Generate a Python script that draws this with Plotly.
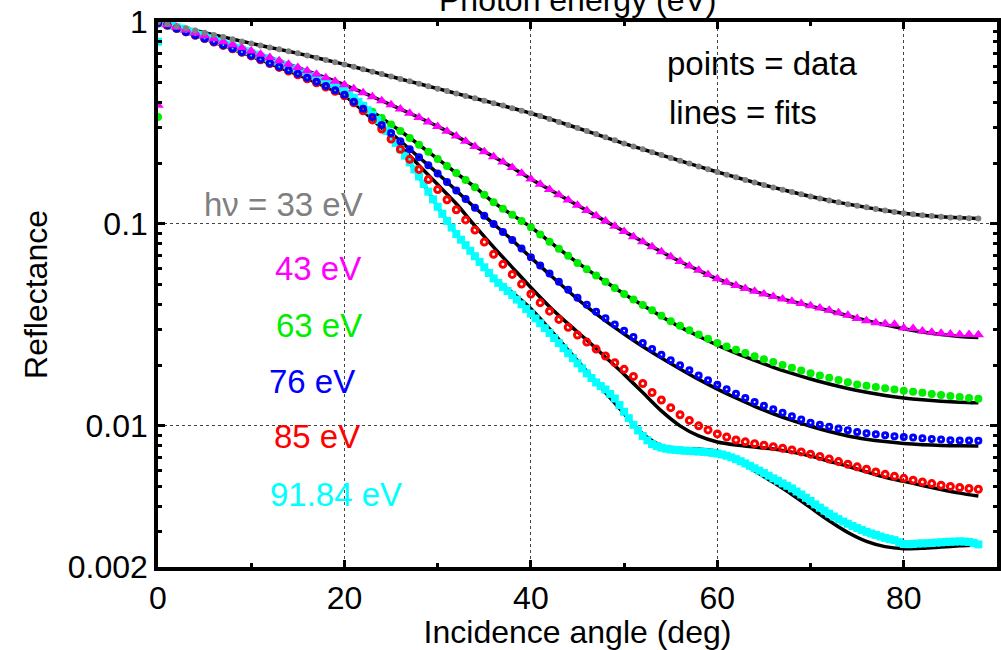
import plotly.graph_objects as go

# ---------------- data ----------------
# Reflectance values are stored as log10(R), read on the log axis.
angle_data = [float(a) for a in range(0, 89)]            # 1-degree sampling (0..88)
angle_cyan = [a * 0.5 for a in range(0, 177)]             # 0.5-degree sampling (0..88)
angle_fit = [float(a) for a in range(0, 89, 2)]           # fit curves sampled every 2 deg

log_r_33 = [0.000, -0.010, -0.021, -0.031, -0.042, -0.053, -0.064, -0.074, -0.085, -0.096,
            -0.106, -0.116, -0.126, -0.135, -0.145, -0.155, -0.166, -0.177, -0.188, -0.199,
            -0.210, -0.222, -0.234, -0.246, -0.258, -0.270, -0.282, -0.294, -0.306, -0.318,
            -0.330, -0.342, -0.354, -0.366, -0.378, -0.390, -0.402, -0.414, -0.427, -0.439,
            -0.452, -0.466, -0.480, -0.495, -0.510, -0.525, -0.540, -0.555, -0.571, -0.586,
            -0.602, -0.616, -0.630, -0.645, -0.659, -0.673, -0.687, -0.701, -0.715, -0.729,
            -0.743, -0.756, -0.769, -0.782, -0.795, -0.807, -0.819, -0.831, -0.842, -0.853,
            -0.864, -0.874, -0.884, -0.893, -0.902, -0.910, -0.918, -0.926, -0.934, -0.941,
            -0.947, -0.952, -0.957, -0.961, -0.965, -0.968, -0.970, -0.972, -0.973]

log_r_43 = [-0.412, -0.013, -0.026, -0.040, -0.054, -0.068, -0.083, -0.098, -0.113, -0.128,
            -0.144, -0.160, -0.176, -0.192, -0.209, -0.225, -0.242, -0.259, -0.276, -0.293,
            -0.311, -0.330, -0.350, -0.370, -0.390, -0.410, -0.431, -0.452, -0.473, -0.495,
            -0.517, -0.541, -0.565, -0.591, -0.617, -0.642, -0.667, -0.693, -0.720, -0.749,
            -0.778, -0.804, -0.830, -0.856, -0.882, -0.908, -0.934, -0.960, -0.986, -1.012,
            -1.037, -1.063, -1.088, -1.113, -1.138, -1.162, -1.186, -1.208, -1.230, -1.251,
            -1.272, -1.289, -1.305, -1.320, -1.334, -1.347, -1.360, -1.372, -1.383, -1.394,
            -1.405, -1.416, -1.428, -1.440, -1.452, -1.468, -1.480, -1.490, -1.494, -1.497,
            -1.515, -1.518, -1.530, -1.536, -1.541, -1.545, -1.548, -1.548, -1.549]

log_r_63 = [-0.470, -0.016, -0.032, -0.049, -0.066, -0.083, -0.100, -0.117, -0.134, -0.151,
            -0.168, -0.186, -0.204, -0.222, -0.240, -0.258, -0.277, -0.296, -0.315, -0.335,
            -0.355, -0.385, -0.415, -0.445, -0.476, -0.508, -0.540, -0.574, -0.608, -0.643,
            -0.678, -0.713, -0.748, -0.783, -0.818, -0.855, -0.893, -0.925, -0.955, -0.986,
            -1.016, -1.052, -1.088, -1.123, -1.158, -1.193, -1.224, -1.255, -1.286, -1.317,
            -1.347, -1.374, -1.401, -1.428, -1.455, -1.482, -1.504, -1.526, -1.548, -1.569,
            -1.590, -1.607, -1.623, -1.639, -1.655, -1.670, -1.684, -1.698, -1.712, -1.726,
            -1.740, -1.751, -1.762, -1.773, -1.784, -1.795, -1.801, -1.807, -1.814, -1.820,
            -1.826, -1.831, -1.836, -1.842, -1.847, -1.852, -1.857, -1.862, -1.866]

log_r_76 = [-0.005, -0.016, -0.032, -0.049, -0.066, -0.082, -0.098, -0.114, -0.131, -0.148,
            -0.166, -0.185, -0.204, -0.222, -0.239, -0.256, -0.276, -0.296, -0.317, -0.338,
            -0.360, -0.395, -0.430, -0.470, -0.510, -0.550, -0.590, -0.630, -0.670, -0.710,
            -0.750, -0.792, -0.835, -0.877, -0.920, -0.960, -1.000, -1.040, -1.080, -1.122,
            -1.165, -1.206, -1.246, -1.286, -1.326, -1.366, -1.400, -1.435, -1.467, -1.498,
            -1.529, -1.560, -1.590, -1.620, -1.648, -1.675, -1.700, -1.725, -1.750, -1.774,
            -1.797, -1.819, -1.841, -1.862, -1.882, -1.901, -1.918, -1.935, -1.952, -1.968,
            -1.984, -1.994, -2.004, -2.013, -2.022, -2.030, -2.036, -2.041, -2.046, -2.051,
            -2.055, -2.058, -2.061, -2.065, -2.068, -2.071, -2.072, -2.073, -2.074]

log_r_85 = [-0.005, -0.016, -0.032, -0.049, -0.066, -0.082, -0.099, -0.116, -0.133, -0.150,
            -0.168, -0.187, -0.206, -0.225, -0.243, -0.261, -0.281, -0.301, -0.322, -0.343,
            -0.365, -0.400, -0.440, -0.485, -0.530, -0.580, -0.630, -0.680, -0.730, -0.780,
            -0.830, -0.880, -0.930, -0.980, -1.030, -1.090, -1.150, -1.200, -1.250, -1.298,
            -1.347, -1.390, -1.432, -1.473, -1.512, -1.550, -1.585, -1.620, -1.654, -1.687,
            -1.720, -1.755, -1.790, -1.835, -1.872, -1.910, -1.945, -1.973, -2.000, -2.020,
            -2.040, -2.055, -2.070, -2.079, -2.088, -2.096, -2.103, -2.111, -2.119, -2.129,
            -2.140, -2.152, -2.164, -2.177, -2.190, -2.203, -2.215, -2.228, -2.240, -2.250,
            -2.260, -2.269, -2.278, -2.286, -2.294, -2.300, -2.305, -2.310, -2.314]

log_r_9184 = [-0.098, -0.006, -0.012, -0.019, -0.026, -0.033, -0.041, -0.048, -0.056, -0.064,
              -0.072, -0.080, -0.088, -0.096, -0.104, -0.112, -0.120, -0.128, -0.137, -0.145,
              -0.154, -0.162, -0.171, -0.179, -0.188, -0.196, -0.205, -0.213, -0.222, -0.231,
              -0.240, -0.249, -0.258, -0.267, -0.277, -0.287, -0.297, -0.307, -0.318, -0.329,
              -0.340, -0.357, -0.375, -0.395, -0.415, -0.437, -0.460, -0.485, -0.510, -0.539,
              -0.568, -0.599, -0.630, -0.662, -0.695, -0.730, -0.765, -0.802, -0.840, -0.878,
              -0.915, -0.950, -0.985, -1.018, -1.050, -1.078, -1.105, -1.133, -1.160, -1.188,
              -1.215, -1.243, -1.270, -1.292, -1.312, -1.332, -1.352, -1.375, -1.398, -1.421,
              -1.444, -1.468, -1.492, -1.516, -1.540, -1.565, -1.590, -1.615, -1.640, -1.665,
              -1.690, -1.715, -1.740, -1.763, -1.785, -1.803, -1.820, -1.842, -1.865, -1.897,
              -1.930, -1.962, -1.995, -2.023, -2.050, -2.072, -2.090, -2.100, -2.108, -2.113,
              -2.117, -2.119, -2.121, -2.123, -2.124, -2.126, -2.127, -2.129, -2.131, -2.134,
              -2.137, -2.142, -2.148, -2.156, -2.165, -2.175, -2.186, -2.198, -2.210, -2.222,
              -2.234, -2.247, -2.260, -2.272, -2.285, -2.297, -2.310, -2.325, -2.340, -2.356,
              -2.372, -2.389, -2.405, -2.420, -2.435, -2.449, -2.462, -2.474, -2.485, -2.496,
              -2.506, -2.516, -2.525, -2.533, -2.540, -2.548, -2.555, -2.561, -2.566, -2.576,
              -2.585, -2.586, -2.585, -2.583, -2.582, -2.581, -2.580, -2.578, -2.577, -2.575,
              -2.574, -2.573, -2.572, -2.573, -2.575, -2.580, -2.587]

# fits (every 2 deg, 0..88)
fit_33 = [0.000, -0.021, -0.042, -0.064, -0.085, -0.106, -0.126, -0.145, -0.166, -0.188,
          -0.210, -0.234, -0.258, -0.282, -0.306, -0.330, -0.354, -0.378, -0.402, -0.427,
          -0.452, -0.480, -0.510, -0.540, -0.571, -0.602, -0.630, -0.659, -0.687, -0.715,
          -0.743, -0.769, -0.795, -0.819, -0.842, -0.864, -0.884, -0.902, -0.918, -0.934,
          -0.947, -0.957, -0.965, -0.970, -0.973]
fit_43 = [0.000, -0.026, -0.054, -0.083, -0.113, -0.144, -0.176, -0.209, -0.242, -0.276,
          -0.311, -0.350, -0.390, -0.431, -0.473, -0.517, -0.565, -0.617, -0.667, -0.720,
          -0.778, -0.830, -0.882, -0.934, -0.986, -1.037, -1.088, -1.138, -1.186, -1.230,
          -1.272, -1.305, -1.334, -1.360, -1.384, -1.407, -1.430, -1.455, -1.478, -1.500,
          -1.519, -1.535, -1.548, -1.557, -1.562]
fit_63 = [0.000, -0.032, -0.066, -0.100, -0.134, -0.168, -0.204, -0.240, -0.277, -0.315,
          -0.355, -0.415, -0.476, -0.540, -0.608, -0.678, -0.748, -0.818, -0.893, -0.955,
          -1.016, -1.088, -1.158, -1.224, -1.286, -1.347, -1.403, -1.458, -1.510, -1.556,
          -1.600, -1.640, -1.676, -1.710, -1.740, -1.768, -1.793, -1.815, -1.834, -1.850,
          -1.862, -1.871, -1.878, -1.883, -1.886]
fit_76 = [0.000, -0.032, -0.066, -0.098, -0.131, -0.166, -0.204, -0.239, -0.276, -0.317,
          -0.360, -0.430, -0.510, -0.590, -0.670, -0.750, -0.835, -0.920, -1.000, -1.080,
          -1.167, -1.250, -1.332, -1.410, -1.480, -1.545, -1.607, -1.664, -1.718, -1.770,
          -1.818, -1.862, -1.903, -1.940, -1.973, -2.002, -2.028, -2.050, -2.066, -2.078,
          -2.087, -2.093, -2.097, -2.099, -2.100]
fit_85 = [0.000, -0.032, -0.066, -0.099, -0.133, -0.168, -0.206, -0.243, -0.281, -0.322,
          -0.365, -0.440, -0.525, -0.615, -0.710, -0.805, -0.900, -1.010, -1.115, -1.215,
          -1.315, -1.410, -1.495, -1.575, -1.660, -1.745, -1.835, -1.926, -2.000, -2.050,
          -2.080, -2.095, -2.105, -2.115, -2.130, -2.150, -2.175, -2.200, -2.228, -2.255,
          -2.275, -2.295, -2.315, -2.333, -2.347]
fit_9184 = [0.000, -0.026, -0.056, -0.088, -0.120, -0.154, -0.188, -0.222, -0.258, -0.297,
            -0.340, -0.415, -0.510, -0.630, -0.765, -0.915, -1.050, -1.160, -1.265, -1.340,
            -1.420, -1.520, -1.625, -1.730, -1.835, -1.940, -2.040, -2.098, -2.112, -2.115,
            -2.125, -2.160, -2.222, -2.280, -2.340, -2.405, -2.470, -2.528, -2.572, -2.598,
            -2.608, -2.606, -2.600, -2.594, -2.590]

series_labels = ["h\u03bd = 33 eV", "43 eV", "63 eV", "76 eV", "85 eV", "91.84 eV"]
series_colors = ["#808080", "#ff00ff", "#00ee00", "#0000ff", "#ff0000", "#00ffff"]

x_tick_vals = [0, 20, 40, 60, 80]
x_tick_text = ["0", "20", "40", "60", "80"]
y_tick_vals = [0.002, 0.01, 0.1, 1]
y_tick_text = ["0.002", "0.01", "0.1", "1"]


def to_r(logs):
    return [10 ** v for v in logs]


FONT = "Liberation Sans, Arial, Helvetica, sans-serif"

fig = go.Figure()

# fit lines (black, beneath the points)
for fit in [fit_9184, fit_85, fit_76, fit_63, fit_43, fit_33]:
    fig.add_trace(go.Scatter(x=angle_fit, y=to_r(fit), mode="lines",
                             line=dict(color="black", width=3.5, shape="spline", smoothing=0.8),
                             hoverinfo="skip"))

# data points
fig.add_trace(go.Scatter(x=angle_data, y=to_r(log_r_63), mode="markers",
                         marker=dict(symbol="circle", size=8, color=series_colors[2])))
fig.add_trace(go.Scatter(x=angle_cyan, y=to_r(log_r_9184), mode="markers",
                         marker=dict(symbol="square", size=8, color=series_colors[5])))
fig.add_trace(go.Scatter(x=angle_data, y=to_r(log_r_85), mode="markers",
                         marker=dict(symbol="circle-open", size=6, color=series_colors[4],
                                     line=dict(width=3, color=series_colors[4]))))
fig.add_trace(go.Scatter(x=angle_data, y=to_r(log_r_76), mode="markers",
                         marker=dict(symbol="circle-open", size=5, color=series_colors[3],
                                     line=dict(width=3, color=series_colors[3]))))
fig.add_trace(go.Scatter(x=angle_data, y=to_r(log_r_43), mode="markers",
                         marker=dict(symbol="triangle-up", size=10, color=series_colors[1])))
fig.add_trace(go.Scatter(x=angle_data, y=to_r(log_r_33), mode="markers",
                         marker=dict(symbol="circle", size=6, color=series_colors[0])))

# series labels
label_pos = [(4.7, -0.905), (12.3, -1.222), (12.4, -1.505), (11.7, -1.778),
             (12.2, -2.055), (11.85, -2.342)]
for text, color, (lx, ly) in zip(series_labels, series_colors, label_pos):
    fig.add_annotation(x=lx, y=ly, xref="x", yref="y", text=text, showarrow=False,
                       xanchor="left", yanchor="middle",
                       font=dict(family=FONT, size=33, color=color))

fig.add_annotation(x=54.4, y=-0.205, xref="x", yref="y", text="points = data",
                   showarrow=False, xanchor="left", yanchor="middle",
                   font=dict(family=FONT, size=33, color="black"))
fig.add_annotation(x=54.6, y=-0.45, xref="x", yref="y", text="lines = fits",
                   showarrow=False, xanchor="left", yanchor="middle",
                   font=dict(family=FONT, size=33, color="black"))

# top axis title (cut off by the page edge, as in the original)
fig.add_annotation(x=0.5, y=1, xref="paper", yref="paper", yshift=2,
                   text="Photon energy (eV)", showarrow=False,
                   xanchor="center", yanchor="bottom",
                   font=dict(family=FONT, size=32, color="black"))

minor_y = [0.003, 0.004, 0.005, 0.006, 0.007, 0.008, 0.009,
           0.02, 0.03, 0.04, 0.05, 0.06, 0.07, 0.08, 0.09,
           0.2, 0.3, 0.4, 0.5, 0.6, 0.7, 0.8, 0.9]

fig.update_layout(
    width=1001, height=650,
    margin=dict(l=158, r=0, t=22, b=83),
    paper_bgcolor="white", plot_bgcolor="white",
    showlegend=False,
    font=dict(family=FONT, size=32, color="black"),
    xaxis=dict(
        range=[0, 90], tickmode="array", tickvals=x_tick_vals, ticktext=x_tick_text,
        ticks="inside", ticklen=7, tickwidth=2.5, tickcolor="black",
        showline=True, linewidth=3.5, linecolor="black", mirror="ticks",
        showgrid=True, gridcolor="#444444", gridwidth=1, griddash="3px,3px",
        zeroline=False,
        minor=dict(tickmode="array", tickvals=[10, 30, 50, 70, 90], ticks="inside",
                   ticklen=4, tickwidth=2.5, tickcolor="black", showgrid=False),
        title=dict(text="Incidence angle (deg)", standoff=2,
                   font=dict(family=FONT, size=32)),
        tickfont=dict(family=FONT, size=32),
    ),
    yaxis=dict(
        type="log", range=[-2.69897, 0], tickmode="array",
        tickvals=y_tick_vals, ticktext=y_tick_text,
        ticks="inside", ticklen=7, tickwidth=2.5, tickcolor="black",
        showline=True, linewidth=3.5, linecolor="black", mirror="ticks",
        showgrid=True, gridcolor="#444444", gridwidth=1, griddash="3px,3px",
        zeroline=False,
        minor=dict(tickmode="array", tickvals=minor_y, ticks="inside",
                   ticklen=4, tickwidth=2.5, tickcolor="black", showgrid=False),
        title=dict(text="Reflectance", standoff=12, font=dict(family=FONT, size=32)),
        tickfont=dict(family=FONT, size=32),
    ),
)

fig.write_html("out.html")
